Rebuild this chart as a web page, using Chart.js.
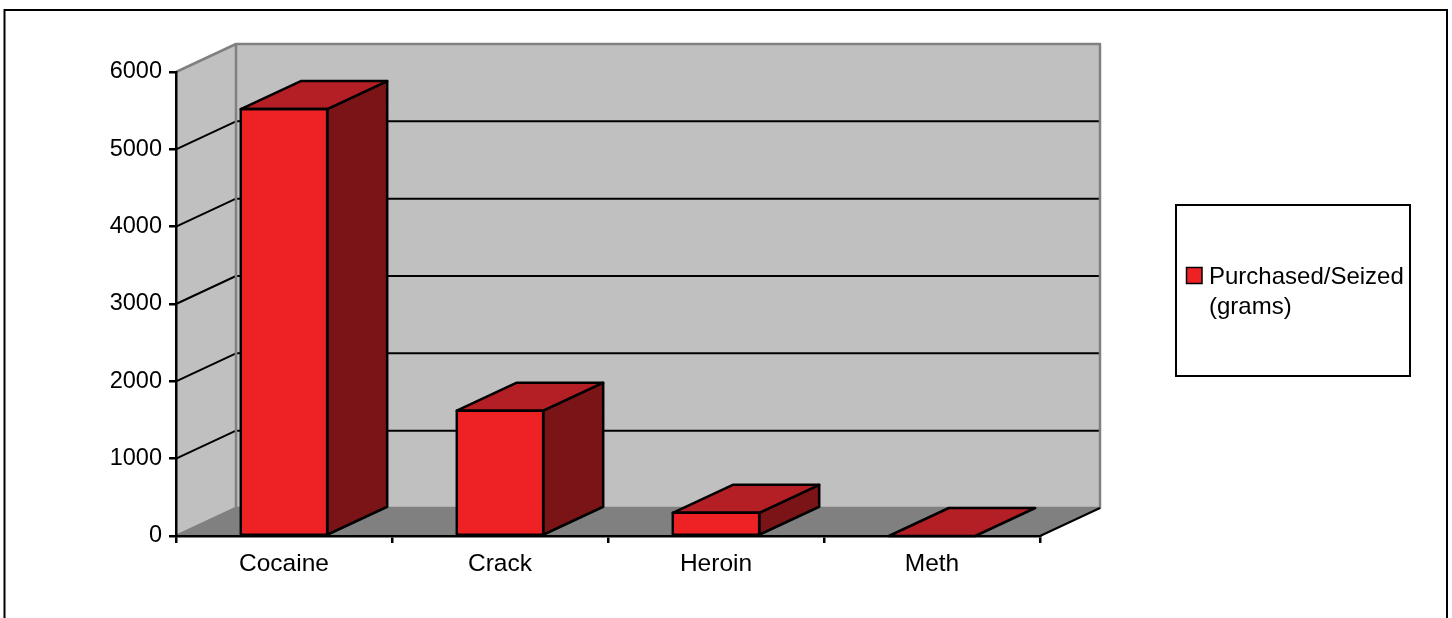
<!DOCTYPE html>
<html>
<head>
<meta charset="utf-8">
<script src="https://cdn.jsdelivr.net/npm/chart.js@4/dist/chart.umd.min.js"></script>
<style>
  html, body { margin: 0; padding: 0; background: #ffffff; }
  #wrap { width: 1452px; height: 618px; }
</style>
</head>
<body>
<div id="wrap"><canvas id="c" width="1452" height="618"></canvas></div>
<script>
// ---- data ----
const categories = ['Cocaine', 'Crack', 'Heroin', 'Meth'];
const purchasedSeized = [5520, 1620, 300, 0];
const seriesLabelLines = ['Purchased/Seized', '(grams)'];
const yTickValues = [0, 1000, 2000, 3000, 4000, 5000, 6000];

// ---- style ----
const DX = 60, DY = -28;
const FONT = "'Liberation Sans', Arial, sans-serif";
const FONT_SIZE = 23.5;
const COL_FRONT = '#ee2225';
const COL_TOP = '#b31f25';
const COL_SIDE = '#7a1416';

const yMin = yTickValues[0];
const yMax = yTickValues[yTickValues.length - 1];

const wallsPlugin = {
  id: 'walls',
  beforeDraw(chart) {
    const { ctx, chartArea: ca, scales } = chart;
    const ys = scales.y;
    const L = ca.left, R = ca.right;
    const T = ys.getPixelForValue(yMax), B = ys.getPixelForValue(yMin);
    ctx.save();
    // outer frame
    ctx.strokeStyle = '#000';
    ctx.lineWidth = 2;
    ctx.strokeRect(4.5, 10, 1442.5, 630);
    // back wall
    ctx.fillStyle = '#c0c0c0';
    ctx.fillRect(L + DX, T + DY, R - L, B - T);
    // left wall
    ctx.beginPath();
    ctx.moveTo(L, B); ctx.lineTo(L, T); ctx.lineTo(L + DX, T + DY); ctx.lineTo(L + DX, B + DY); ctx.closePath();
    ctx.fill();
    // floor
    ctx.fillStyle = '#808080';
    ctx.beginPath();
    ctx.moveTo(L, B); ctx.lineTo(R, B); ctx.lineTo(R + DX, B + DY); ctx.lineTo(L + DX, B + DY); ctx.closePath();
    ctx.fill();
    // grid lines on walls
    ctx.strokeStyle = '#000';
    ctx.lineWidth = 2;
    ctx.lineJoin = 'round';
    yTickValues.forEach(v => {
      if (v === yMin || v === yMax) return;
      const p = ys.getPixelForValue(v);
      ctx.beginPath();
      ctx.moveTo(L, p); ctx.lineTo(L + DX, p + DY); ctx.lineTo(R + DX, p + DY);
      ctx.stroke();
    });
    // wall edges (grey)
    ctx.strokeStyle = '#808080';
    ctx.lineWidth = 2.5;
    ctx.strokeRect(L + DX, T + DY, R - L, B - T);
    ctx.beginPath();
    ctx.moveTo(L, T); ctx.lineTo(L + DX, T + DY);
    ctx.moveTo(L, B); ctx.lineTo(L + DX, B + DY);
    ctx.stroke();
    // floor right edge
    ctx.strokeStyle = '#000';
    ctx.lineWidth = 2;
    ctx.beginPath();
    ctx.moveTo(R, B); ctx.lineTo(R + DX, B + DY);
    ctx.stroke();
    ctx.restore();
  },
  afterDatasetsDraw(chart) {
    const { ctx } = chart;
    const meta = chart.getDatasetMeta(0);
    ctx.save();
    ctx.strokeStyle = '#000';
    ctx.lineWidth = 2.5;
    ctx.lineJoin = 'round';
    meta.data.forEach(bar => {
      const { x, y, base, width } = bar.getProps(['x', 'y', 'base', 'width'], true);
      const l = x - width / 2, r = x + width / 2;
      // side face
      if (base - y > 0.5) {
        ctx.fillStyle = COL_SIDE;
        ctx.beginPath();
        ctx.moveTo(r, y); ctx.lineTo(r + DX, y + DY); ctx.lineTo(r + DX, base + DY); ctx.lineTo(r, base); ctx.closePath();
        ctx.fill(); ctx.stroke();
      }
      // top face
      ctx.fillStyle = COL_TOP;
      ctx.beginPath();
      ctx.moveTo(l, y); ctx.lineTo(r, y); ctx.lineTo(r + DX, y + DY); ctx.lineTo(l + DX, y + DY); ctx.closePath();
      ctx.fill(); ctx.stroke();
      // front face outline
      if (base - y > 0.5) {
        ctx.strokeRect(l, y, width, base - y);
      }
    });
    ctx.restore();
  },
  afterDraw(chart) {
    const { ctx } = chart;
    ctx.save();
    // legend box
    ctx.fillStyle = '#fff';
    ctx.fillRect(1176, 205, 234, 171);
    ctx.strokeStyle = '#000';
    ctx.lineWidth = 2;
    ctx.strokeRect(1176, 205, 234, 171);
    // swatch
    ctx.fillStyle = COL_FRONT;
    ctx.fillRect(1186.5, 267.5, 15.5, 16);
    ctx.lineWidth = 1.5;
    ctx.strokeRect(1186.5, 267.5, 15.5, 16);
    // text
    ctx.fillStyle = '#000';
    ctx.font = '24px ' + FONT;
    ctx.textBaseline = 'alphabetic';
    ctx.textAlign = 'left';
    seriesLabelLines.forEach((t, i) => ctx.fillText(t, 1209, 284 + i * 30));
    ctx.restore();
  }
};

Chart.defaults.font.family = FONT;
Chart.defaults.font.size = FONT_SIZE;
Chart.defaults.color = '#000';

new Chart(document.getElementById('c'), {
  type: 'bar',
  data: {
    labels: categories,
    datasets: [{
      label: seriesLabelLines.join(' '),
      data: purchasedSeized,
      backgroundColor: COL_FRONT,
      borderColor: '#000',
      borderWidth: 0,
      barPercentage: 0.4,
      categoryPercentage: 1.0
    }]
  },
  options: {
    responsive: false,
    devicePixelRatio: 1,
    animation: false,
    events: [],
    layout: { padding: { left: 0, top: 72, right: 412, bottom: 0 } },
    plugins: { legend: { display: false }, tooltip: { enabled: false }, title: { display: false } },
    scales: {
      x: {
        type: 'category',
        offset: true,
        grid: { offset: true, drawOnChartArea: false, drawTicks: true, tickLength: 7, color: '#000', lineWidth: 2.5 },
        border: { display: true, color: '#000', width: 2.5 },
        ticks: { padding: 7, color: '#000', maxRotation: 0, font: { size: 24.5 } },
        afterFit(scale) { scale.height = 82; }
      },
      y: {
        type: 'linear',
        min: yMin,
        max: yMax,
        afterBuildTicks(scale) { scale.ticks = yTickValues.map(v => ({ value: v })); },
        grid: { drawOnChartArea: false, drawTicks: true, tickLength: 7, color: '#000', lineWidth: 2.5 },
        border: { display: true, color: '#000', width: 2.5 },
        ticks: { padding: 7, color: '#000', callback: v => String(v), font: { size: FONT_SIZE } },
        afterFit(scale) { scale.width = 176; }
      }
    }
  },
  plugins: [wallsPlugin]
});
</script>
</body>
</html>
